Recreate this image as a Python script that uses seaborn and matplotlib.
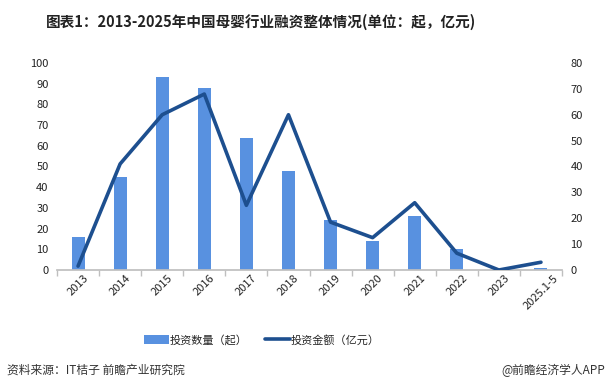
import numpy as np
import pandas as pd
import matplotlib
matplotlib.use("Agg")
import matplotlib.pyplot as plt
import seaborn as sns

# data
years = ["2013", "2014", "2015", "2016", "2017", "2018", "2019", "2020",
         "2021", "2022", "2023", "2025.1-5"]
deal_count = [16, 45, 93, 88, 64, 48, 24, 14, 26, 10, 0, 1]
deal_amount = [1.5, 41, 60, 68, 25, 60, 18.5, 12.5, 26, 6.5, 0, 3]

BAR_COLOR = "#5891E0"
LINE_COLOR = "#1D4F8F"

sns.set_theme(style="white")
plt.rcParams["font.family"] = ["Noto Sans CJK SC", "DejaVu Sans"]

df = pd.DataFrame({"year": years, "count": deal_count, "amount": deal_amount})

fig = plt.figure(figsize=(6.07, 3.91), dpi=100)
ax = fig.add_axes([57 / 607, 1 - 270 / 391, (562 - 57) / 607, (270 - 63) / 391])

sns.barplot(data=df, x="year", y="count", color=BAR_COLOR, width=0.31,
            saturation=1, linewidth=0, ax=ax, label="投资数量（起）")
ax.set_ylim(0, 100)
ax.set_yticks(range(0, 101, 10))
ax.set_xlim(-0.5, len(years) - 0.5)

ax2 = ax.twinx()
sns.lineplot(x=np.arange(len(years)), y=df["amount"], color=LINE_COLOR,
             linewidth=2.6, ax=ax2, label="投资金额（亿元）", legend=False)
ax2.set_ylim(0, 80)
ax2.set_yticks(range(0, 81, 10))

for a in (ax, ax2):
    a.set_xlabel("")
    a.set_ylabel("")
    for s in ("top", "left", "right"):
        a.spines[s].set_visible(False)
    a.tick_params(axis="y", labelsize=8, colors="#222222", length=0, pad=6)
ax.spines["bottom"].set_color("#BFBFBF")
ax2.spines["bottom"].set_visible(False)

# tick marks between categories
ax.set_xticks(np.arange(len(years)))
ax.set_xticklabels(years, rotation=45, fontsize=8, color="#222222")
ax.set_xticks(np.arange(len(years) + 1) - 0.5, minor=True)
ax.tick_params(axis="x", which="major", length=0, pad=2)
ax.tick_params(axis="x", which="minor", length=4, color="#BFBFBF", bottom=True)

# legend under the plot
h1, l1 = ax.get_legend_handles_labels()
h2, l2 = ax2.get_legend_handles_labels()
if ax.get_legend():
    ax.get_legend().remove()
fig.legend(h1 + h2, l1 + l2, loc="center", bbox_to_anchor=(262 / 607, 1 - 340 / 391),
           ncol=2, frameon=False, fontsize=8, handlelength=2.2,
           handleheight=0.8, handletextpad=0.1, columnspacing=1.6)

fig.text(261 / 607, 1 - 22 / 391, "图表1：2013-2025年中国母婴行业融资整体情况(单位：起，亿元)",
         ha="center", va="center", fontsize=10.5, fontweight="bold", color="#222222")
fig.text(7 / 607, 1 - 370 / 391, "资料来源：IT桔子 前瞻产业研究院", ha="left",
         va="center", fontsize=8.5, color="#333333")
fig.text(1 - 2 / 607, 1 - 370 / 391, "@前瞻经济学人APP", ha="right",
         va="center", fontsize=8.5, color="#333333")

fig.savefig("out.png", dpi=100)
